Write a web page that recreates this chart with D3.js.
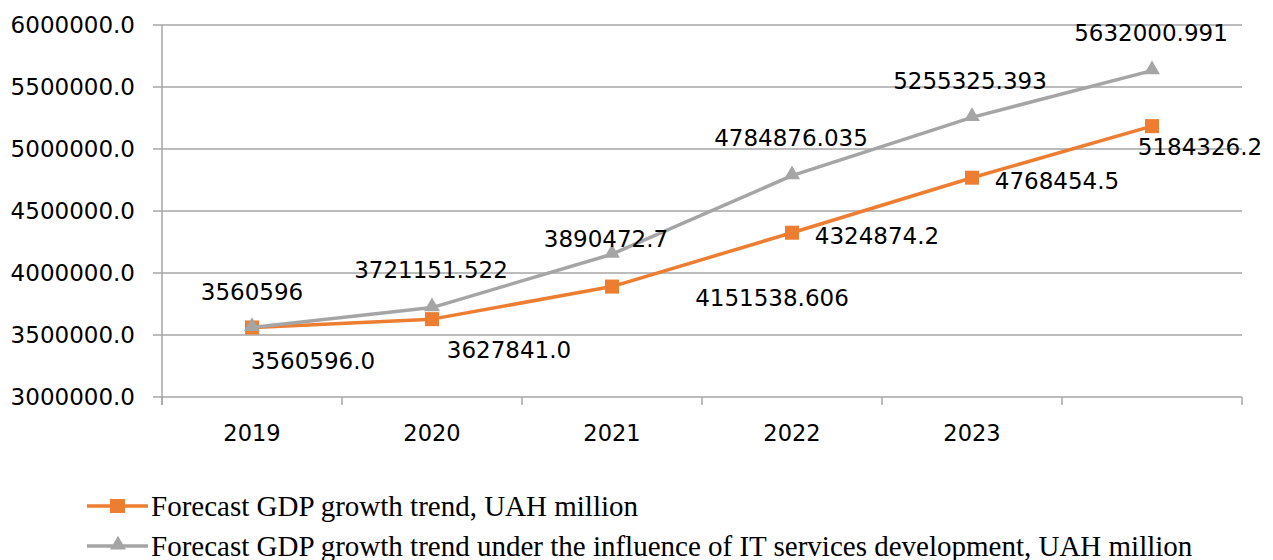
<!DOCTYPE html>
<html>
<head>
<meta charset="utf-8">
<script src="https://cdn.jsdelivr.net/npm/d3@7"></script>
<style>
  body { margin: 0; background: #fff; }
  svg { display: block; }
</style>
</head>
<body>
<div class="chart"></div>
<script>
// data
const categories = ["2019", "2020", "2021", "2022", "2023", ""];
const forecast = [3560596.0, 3627841.0, 3890472.7, 4324874.2, 4768454.5, 5184326.2];
const forecastLabels = ["3560596.0", "3627841.0", "3890472.7", "4324874.2", "4768454.5", "5184326.2"];
const forecastIT = [3560596, 3721151.522, 4151538.606, 4784876.035, 5255325.393, 5632000.991];
const forecastITLabels = ["3560596", "3721151.522", "4151538.606", "4784876.035", "5255325.393", "5632000.991"];
const yTicks = [3000000, 3500000, 4000000, 4500000, 5000000, 5500000, 6000000];
const legendNames = [
  "Forecast GDP growth trend, UAH million",
  "Forecast GDP growth trend under the influence of IT services development, UAH million"
];

// where each data label sits relative to its point (dx, dy to label centre)
const forecastLabelPos = [[61, 33], [77, 31], [-6, -48], [85, 3], [85, 3], [48, 21]];
const forecastITLabelPos = [[0, -36], [-1, -38], [160, 44], [-1, -38], [-2, -37], [-1, -38]];

const W = 1273, H = 560;
const margin = { top: 25, right: 31, bottom: 163, left: 162 };
const width = W - margin.left - margin.right,
      height = H - margin.top - margin.bottom;

const orange = "#ED7D31", gray = "#A5A5A5", gridColor = "#a6a6a6";
const numFont = "DejaVu Sans, Verdana, sans-serif";

const svg = d3.select(".chart")
  .append("svg")
  .attr("width", W)
  .attr("height", H)
  .append("g")
  .attr("transform", `translate(${margin.left},${margin.top})`);

const x = d3.scaleBand()
  .domain(categories)
  .range([0, width]);

const y = d3.scaleLinear()
  .domain([3000000, 6000000])
  .range([height, 0]);

const cx = (d, i) => x(categories[i]) + x.bandwidth() / 2;

// horizontal gridlines (with the little tick stub left of the axis)
svg.append("g")
  .selectAll("line")
  .data(yTicks)
  .enter()
  .append("line")
  .attr("x1", -9)
  .attr("x2", width)
  .attr("y1", d => y(d))
  .attr("y2", d => y(d))
  .attr("stroke", gridColor)
  .attr("stroke-width", 1.5);

// y axis
const yAxis = d3.axisLeft(y)
  .tickValues(yTicks)
  .tickFormat(d3.format(".1f"))
  .tickSize(0)
  .tickPadding(27);

const yg = svg.append("g")
  .attr("class", "axis y-axis")
  .call(yAxis);
yg.select(".domain").remove();
yg.selectAll("text")
  .attr("font-family", numFont)
  .attr("font-size", 23)
  .attr("fill", "#000");

svg.append("line")
  .attr("x1", 0).attr("x2", 0)
  .attr("y1", 0).attr("y2", height + 8)
  .attr("stroke", gridColor)
  .attr("stroke-width", 1.5);

// x axis: ticks sit on the band boundaries
const xg = svg.append("g")
  .attr("class", "axis x-axis")
  .attr("transform", `translate(0,${height})`);

xg.selectAll(".tick-mark")
  .data(d3.range(categories.length + 1))
  .enter()
  .append("line")
  .attr("x1", i => i * x.bandwidth())
  .attr("x2", i => i * x.bandwidth())
  .attr("y1", 0)
  .attr("y2", 8)
  .attr("stroke", gridColor)
  .attr("stroke-width", 1.5);

xg.selectAll(".label")
  .data(categories)
  .enter()
  .append("text")
  .text(d => d)
  .attr("x", d => x(d) + x.bandwidth() / 2)
  .attr("y", 44)
  .attr("text-anchor", "middle")
  .attr("font-family", numFont)
  .attr("font-size", 22.5)
  .attr("fill", "#000");

// lines
const line = d3.line()
  .x(cx)
  .y(d => y(d));

svg.append("path")
  .datum(forecast)
  .attr("fill", "none")
  .attr("stroke", orange)
  .attr("stroke-width", 3.5)
  .attr("stroke-linejoin", "round")
  .attr("d", line);

svg.selectAll(".sq")
  .data(forecast)
  .enter()
  .append("rect")
  .attr("x", (d, i) => cx(d, i) - 7)
  .attr("y", d => y(d) - 7)
  .attr("width", 14)
  .attr("height", 14)
  .attr("fill", orange);

const tri = d3.symbol().type(d3.symbolTriangle).size(110);

svg.append("path")
  .datum(forecastIT)
  .attr("fill", "none")
  .attr("stroke", gray)
  .attr("stroke-width", 3.5)
  .attr("stroke-linejoin", "round")
  .attr("d", line);

svg.selectAll(".tri")
  .data(forecastIT)
  .enter()
  .append("path")
  .attr("d", tri)
  .attr("transform", (d, i) => `translate(${cx(d, i)},${y(d) - 1})`)
  .attr("fill", gray);

// data labels
function labels(values, texts, pos) {
  svg.append("g")
    .selectAll("text")
    .data(values)
    .enter()
    .append("text")
    .text((d, i) => texts[i])
    .attr("x", (d, i) => cx(d, i) + pos[i][0])
    .attr("y", (d, i) => y(d) + pos[i][1])
    .attr("dy", "0.36em")
    .attr("text-anchor", "middle")
    .attr("font-family", numFont)
    .attr("font-size", 23)
    .attr("fill", "#000");
}
labels(forecast, forecastLabels, forecastLabelPos);
labels(forecastIT, forecastITLabels, forecastITLabelPos);

// legend
const legend = d3.select(".chart svg")
  .append("g")
  .attr("transform", "translate(87,506)");

const colors = [orange, gray];
legendNames.forEach((name, i) => {
  const g = legend.append("g").attr("transform", `translate(0,${i * 40})`);
  g.append("line")
    .attr("x1", 0).attr("x2", 61)
    .attr("stroke", colors[i])
    .attr("stroke-width", 3.5);
  if (i === 0) {
    g.append("rect")
      .attr("x", 23).attr("y", -7)
      .attr("width", 15).attr("height", 14)
      .attr("fill", orange);
  } else {
    g.append("path")
      .attr("d", tri)
      .attr("transform", "translate(31,-1)")
      .attr("fill", gray);
  }
  g.append("text")
    .text(name)
    .attr("x", 64)
    .attr("y", 9.5)
    .attr("font-family", "Liberation Serif, Times New Roman, serif")
    .attr("font-size", 29)
    .attr("fill", "#000");
});
</script>
</body>
</html>
